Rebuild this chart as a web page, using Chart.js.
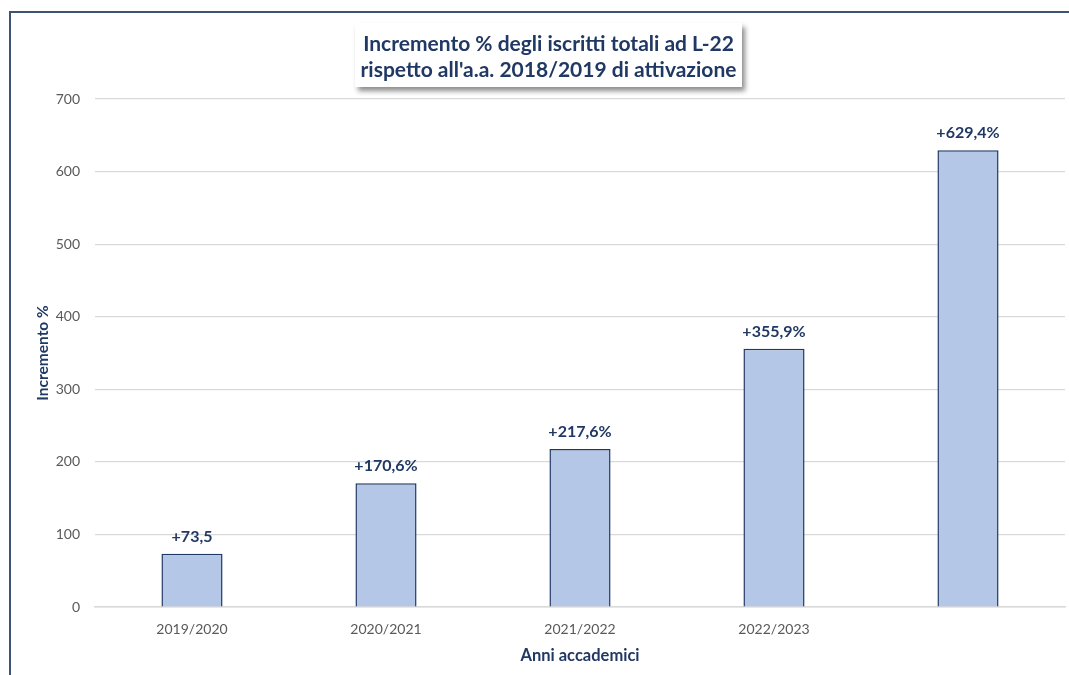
<!DOCTYPE html>
<html>
<head>
<meta charset="utf-8">
<script src="https://cdn.jsdelivr.net/npm/chart.js@4/dist/chart.umd.min.js"></script>
<style>
  html, body { margin: 0; padding: 0; background: #fff; }
  .wrap { position: relative; width: 1069px; height: 675px; overflow: hidden; }
  .frame { position: absolute; left: 9px; top: 11px; width: 1100px; height: 700px;
           border-left: 2px solid #3e5274; border-top: 2px solid #3e5274; }
  canvas { position: absolute; left: 0; top: 0; }
  .title { position: absolute; left: 355px; top: 23px; width: 387px; height: 64px;
           background: #fff; box-shadow: 3px 4px 5px rgba(0,0,0,0.45);
           font-family: Lato, "Noto Sans", sans-serif; font-weight: bold; font-size: 21px;
           color: #203864; text-align: center; line-height: 26px; padding-top: 7px;
           box-sizing: border-box; white-space: nowrap; }
</style>
</head>
<body>
<div class="wrap">
  <div class="frame"></div>
  <canvas id="chart" width="1069" height="675"></canvas>
  <div class="title">Incremento % degli iscritti totali ad L-22<br>rispetto all'a.a. 2018/2019 di attivazione</div>
</div>
<script>
// Chart data
const years = ["2019/2020", "2020/2021", "2021/2022", "2022/2023", ""];
const increments = [73.5, 170.6, 217.6, 355.9, 629.4];
const valueLabels = ["+73,5", "+170,6%", "+217,6%", "+355,9%", "+629,4%"];
const yTicks = [0, 100, 200, 300, 400, 500, 600, 700];

const navy = "#203864";

// draws the values above each bar
const barLabels = {
  id: "barLabels",
  afterDatasetsDraw(chart) {
    const ctx = chart.ctx;
    const meta = chart.getDatasetMeta(0);
    ctx.save();
    ctx.font = "bold 16px Lato, 'Noto Sans', sans-serif";
    ctx.fillStyle = navy;
    ctx.textAlign = "center";
    ctx.textBaseline = "bottom";
    meta.data.forEach((bar, i) => {
      ctx.fillText(valueLabels[i], bar.x, bar.y - 9);
    });
    ctx.restore();
  }
};

const ctx = document.getElementById("chart");

new Chart(ctx, {
  type: "bar",
  data: {
    labels: years,
    datasets: [
      {
        label: "Incremento %",
        data: increments,
        backgroundColor: "#b4c7e7",
        borderColor: navy,
        borderWidth: 1.5,
        barPercentage: 0.315,
        categoryPercentage: 1,
      },
    ],
  },
  options: {
    responsive: false,
    animation: false,
    layout: { padding: { left: 34, top: 99, right: 4, bottom: 0 } },
    plugins: {
      legend: { display: false },
      tooltip: { enabled: false },
    },
    scales: {
      x: {
        grid: { display: false, drawTicks: false },
        border: { display: true, color: "#d9d9d9", width: 1.5 },
        ticks: {
          padding: 14,
          color: "#595959",
          font: { family: "Lato, 'Noto Sans', sans-serif", size: 14 },
        },
        title: {
          display: true,
          text: "Anni accademici",
          color: navy,
          font: { family: "Lato, 'Noto Sans', sans-serif", size: 16.5, weight: "bold" },
          padding: { top: 4, bottom: 9 },
        },
        afterFit(scale) { scale.height = 68; },
      },
      y: {
        min: 0,
        max: 700,
        afterBuildTicks(scale) { scale.ticks = yTicks.map(v => ({ value: v })); },
        grid: { color: "#d9d9d9", lineWidth: 1.2, drawTicks: false },
        border: { display: false },
        ticks: {
          padding: 15,
          color: "#595959",
          font: { family: "Lato, 'Noto Sans', sans-serif", size: 14 },
        },
        title: {
          display: true,
          text: "Incremento %",
          color: navy,
          font: { family: "Lato, 'Noto Sans', sans-serif", size: 15.5, weight: "bold" },
          padding: 0,
        },
        afterFit(scale) { scale.width = 61; },
      },
    },
  },
  plugins: [barLabels],
});
</script>
</body>
</html>
